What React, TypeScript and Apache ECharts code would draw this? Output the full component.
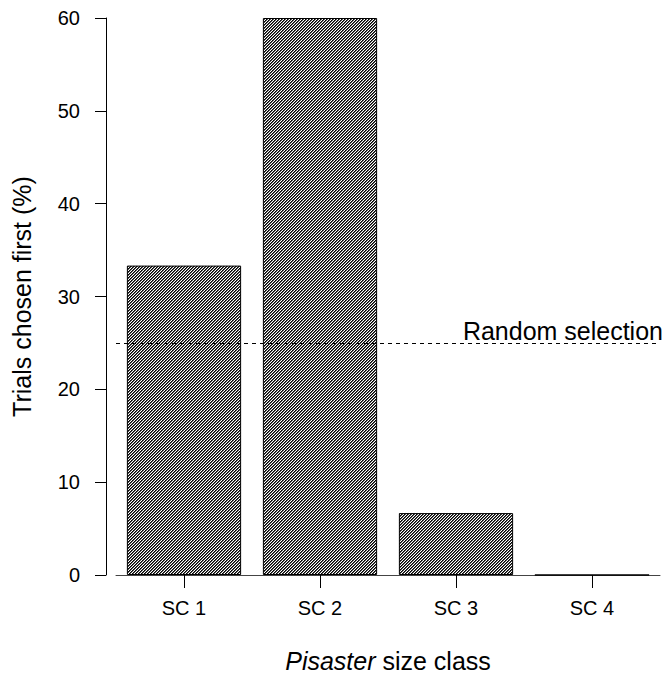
import React, { useEffect, useRef } from "react";
import * as echarts from "echarts";

const categories = ["SC 1", "SC 2", "SC 3", "SC 4"];
const percentChosenFirst = [33.33, 60, 6.67, 0];
const randomSelectionLevel = 25;
const randomSelectionLabel = "Random selection";
const yAxisTitle = "Trials chosen first (%)";
const xAxisTitleItalic = "Pisaster";
const xAxisTitleRest = " size class";

const FONT = "'Liberation Sans', Arial, Helvetica, sans-serif";

function makeHatch(): HTMLCanvasElement {
  const size = 3;
  const c = document.createElement("canvas");
  c.width = size;
  c.height = size;
  const ctx = c.getContext("2d")!;
  const img = ctx.createImageData(size, size);
  for (let y = 0; y < size; y++) {
    for (let x = 0; x < size; x++) {
      const k = (x + y) % size;
      const v = k === 0 ? 0 : k === 1 ? 90 : 255;
      const i = (y * size + x) * 4;
      img.data[i] = v;
      img.data[i + 1] = v;
      img.data[i + 2] = v;
      img.data[i + 3] = 255;
    }
  }
  ctx.putImageData(img, 0, 0);
  return c;
}

export default function App() {
  const ref = useRef<HTMLDivElement>(null);
  useEffect(() => {
    document.body.style.margin = "0";
    const chart = echarts.init(ref.current!, null, { renderer: "svg" });
    const hatch = makeHatch();
    chart.setOption({
      animation: false,
      backgroundColor: "#fff",
      textStyle: { fontFamily: FONT },
      grid: { left: 116, right: 4, top: 18, bottom: 106, containLabel: false },
      xAxis: {
        type: "category",
        data: categories,
        axisLine: { show: true, lineStyle: { color: "#444", width: 1 } },
        axisTick: { show: true, alignWithLabel: true, length: 13, lineStyle: { color: "#000" } },
        axisLabel: { color: "#000", fontSize: 20, margin: 23, fontFamily: FONT },
        name: `{i|${xAxisTitleItalic}}${xAxisTitleRest}`,
        nameLocation: "middle",
        nameGap: 73,
        nameTextStyle: {
          color: "#000",
          fontSize: 25,
          fontFamily: FONT,
          rich: { i: { fontStyle: "italic", fontSize: 25, color: "#000", fontFamily: FONT } },
        },
        splitLine: { show: false },
      },
      yAxis: {
        type: "value",
        min: 0,
        max: 60,
        interval: 10,
        offset: 10,
        axisLine: { show: true, lineStyle: { color: "#000", width: 1 } },
        axisTick: { show: true, length: 11, lineStyle: { color: "#000" } },
        axisLabel: { color: "#000", fontSize: 20, margin: 26, fontFamily: FONT },
        splitLine: { show: false },
        name: yAxisTitle,
        nameLocation: "middle",
        nameGap: 72,
        nameTextStyle: { color: "#000", fontSize: 25, fontFamily: FONT },
      },
      series: [
        {
          type: "bar",
          data: percentChosenFirst,
          barCategoryGap: "16%",
          itemStyle: {
            color: { image: hatch, repeat: "repeat" },
            borderColor: "#000",
            borderWidth: 1,
          },
          markLine: {
            silent: true,
            symbol: "none",
            data: [{ yAxis: randomSelectionLevel }],
            lineStyle: { type: [4, 4], color: "#000", width: 1 },
            label: {
              show: true,
              position: "insideEndTop",
              formatter: randomSelectionLabel,
              fontSize: 25,
              color: "#000",
              fontFamily: FONT,
              distance: [-3, -1],
            },
          },
        },
      ],
    });
    return () => chart.dispose();
  }, []);
  return <div ref={ref} style={{ width: 664, height: 681 }} />;
}
